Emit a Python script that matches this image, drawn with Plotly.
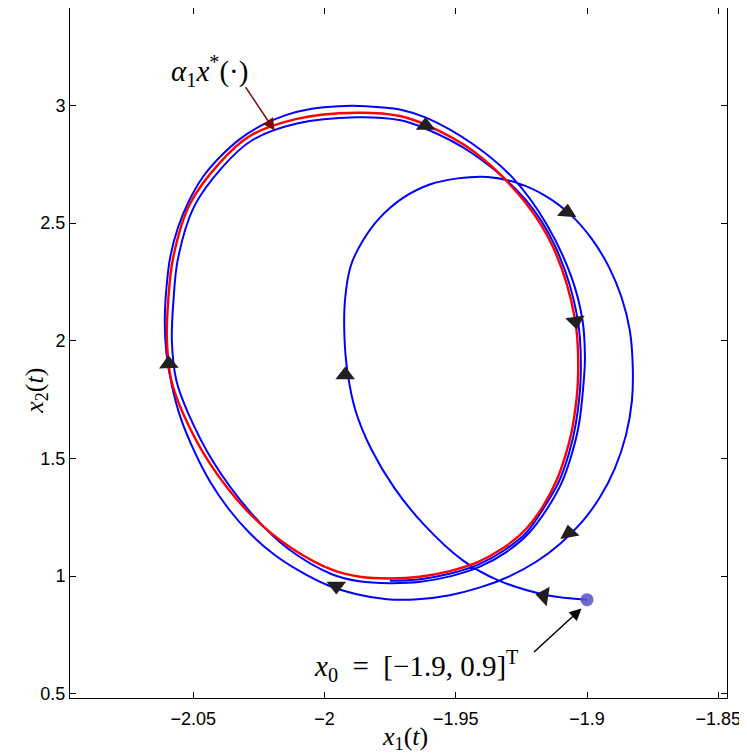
import plotly.graph_objects as go

# trajectory x(t) starting from x0
traj_x1 = [-1.9000, -1.9153, -1.9340, -1.9473, -1.9622, -1.9734, -1.9821, -1.9882, -1.9913, -1.9924,
           -1.9922, -1.9900, -1.9854, -1.9793, -1.9701, -1.9599, -1.9492, -1.9378, -1.9264, -1.9157,
           -1.9062, -1.8982, -1.8917, -1.8868, -1.8837, -1.8826, -1.8829, -1.8852, -1.8894, -1.8951,
           -1.9020, -1.9100, -1.9191, -1.9294, -1.9404, -1.9523, -1.9644, -1.9762, -1.9877, -1.9987,
           -2.0094, -2.0193, -2.0284, -2.0364, -2.0436, -2.0497, -2.0547, -2.0581, -2.0602, -2.0608,
           -2.0602, -2.0587, -2.0558, -2.0516, -2.0463, -2.0398, -2.0322, -2.0238, -2.0147, -2.0048,
           -1.9945, -1.9842, -1.9713, -1.9611, -1.9434, -1.9281, -1.9154, -1.9059, -1.9017, -1.9008,
           -1.9011, -1.9031, -1.9058, -1.9096, -1.9152, -1.9222, -1.9309, -1.9408, -1.9518, -1.9634,
           -1.9751, -1.9867, -1.9972, -2.0138, -2.0280, -2.0423, -2.0520, -2.0564, -2.0581, -2.0575,
           -2.0558, -2.0497, -2.0387, -2.0277, -2.0105, -1.9878, -1.9715, -1.9616, -1.9439, -1.9235,
           -1.9122, -1.9037, -1.9024, -1.9043, -1.9069, -1.9107, -1.9164, -1.9229, -1.9315, -1.9412,
           -1.9520, -1.9635, -1.9751]
traj_x2 = [0.900, 0.919, 0.983, 1.067, 1.220, 1.375, 1.538, 1.704, 1.873, 2.022,
           2.170, 2.318, 2.425, 2.518, 2.607, 2.664, 2.690, 2.696, 2.670, 2.615,
           2.535, 2.433, 2.314, 2.183, 2.043, 1.894, 1.746, 1.598, 1.458, 1.335,
           1.229, 1.140, 1.063, 1.000, 0.953, 0.919, 0.902, 0.902, 0.923, 0.961,
           1.021, 1.093, 1.182, 1.284, 1.402, 1.534, 1.670, 1.810, 1.950, 2.085,
           2.221, 2.357, 2.480, 2.594, 2.696, 2.781, 2.857, 2.916, 2.959, 2.986,
           2.997, 2.997, 2.983, 2.947, 2.835, 2.690, 2.495, 2.269, 2.085, 1.930,
           1.852, 1.644, 1.519, 1.398, 1.286, 1.182, 1.101, 1.040, 1.000, 0.976,
           0.970, 0.978, 1.008, 1.116, 1.269, 1.485, 1.695, 1.831, 2.000, 2.170,
           2.348, 2.569, 2.740, 2.851, 2.923, 2.950, 2.938, 2.902, 2.798, 2.601,
           2.403, 2.101, 1.852, 1.646, 1.521, 1.402, 1.291, 1.188, 1.110, 1.050,
           1.011, 0.987, 0.980]

# scaled periodic orbit alpha_1 x*(.)
cycle_x1 = [-2.0600, -2.0595, -2.0576, -2.0513, -2.0398, -2.0284, -2.0109, -1.9878, -1.9713, -1.9611,
            -1.9434, -1.9241, -1.9130, -1.9047, -1.9034, -1.9053, -1.9079, -1.9116, -1.9168, -1.9237,
            -1.9321, -1.9416, -1.9523, -1.9637, -1.9751, -1.9865, -1.9967, -2.0132, -2.0284, -2.0436,
            -2.0538, -2.0583, -2.0600]
cycle_x2 = [2.000, 2.170, 2.354, 2.580, 2.757, 2.870, 2.942, 2.969, 2.955, 2.916,
            2.806, 2.596, 2.399, 2.099, 1.852, 1.647, 1.525, 1.407, 1.296, 1.195,
            1.118, 1.059, 1.021, 0.997, 0.990, 0.997, 1.025, 1.124, 1.265, 1.478,
            1.690, 1.831, 2.000]

# direction arrows along the trajectory
arrow_x1 = [-1.9615, -1.9076, -1.9044, -1.9921, -2.0593, -1.9068, -1.9164, -1.9955]
arrow_x2 = [2.915, 2.546, 2.084, 1.855, 1.902, 1.183, 0.916, 0.958]
arrow_symbols = ["triangle-up", "triangle-up", "triangle-down", "triangle-up",
                 "triangle-up", "triangle-up", "triangle-left", "triangle-down"]
arrow_angles = [0, 5, -8, 0, -2, -10, 9, 0]

x0 = [-1.9, 0.9]

x_ticks = [-2.05, -2.0, -1.95, -1.9, -1.85]
x_ticktext = ["\u22122.05", "\u22122", "\u22121.95", "\u22121.9", "\u22121.85"]
y_ticks = [0.5, 1, 1.5, 2, 2.5, 3]
y_ticktext = ["0.5", "1", "1.5", "2", "2.5", "3"]

serif = "Liberation Serif"
sans = "Liberation Sans"

fig = go.Figure()

fig.add_trace(go.Scatter(x=traj_x1, y=traj_x2, mode="lines",
                         line=dict(color="#0000ff", width=2, shape="spline", smoothing=1.0),
                         showlegend=False, hoverinfo="skip"))
fig.add_trace(go.Scatter(x=cycle_x1, y=cycle_x2, mode="lines",
                         line=dict(color="#ff0000", width=2.4, shape="spline", smoothing=1.0),
                         showlegend=False, hoverinfo="skip"))
fig.add_trace(go.Scatter(x=arrow_x1, y=arrow_x2, mode="markers",
                         marker=dict(symbol=arrow_symbols, angle=arrow_angles, size=17,
                                     color="#231f20", line=dict(width=0)),
                         showlegend=False, hoverinfo="skip"))
fig.add_trace(go.Scatter(x=[x0[0]], y=[x0[1]], mode="markers",
                         marker=dict(size=13, color="rgba(90,80,200,0.85)", line=dict(width=0)),
                         showlegend=False, hoverinfo="skip"))

# labels and pointer arrows
fig.add_annotation(x=-2.0436, y=3.1455, text="<i>α</i><sub>1</sub><i>x</i><sup>*</sup>(·)",
                   showarrow=False, font=dict(family=serif, size=29, color="black"))
fig.add_annotation(x=-2.019, y=2.893, ax=-30, ay=-45, text="", showarrow=True,
                   arrowhead=2, arrowsize=1.6, arrowwidth=1.5, arrowcolor="#800000")
fig.add_annotation(x=-1.9648, y=0.618,
                   text="<i>x</i><sub>0</sub>\u2002=\u2002[−1.9, 0.9]<sup>T</sup>",
                   showarrow=False, font=dict(family=serif, size=29, color="black"))
fig.add_annotation(x=-1.9021, y=0.8626, ax=-49, ay=45, text="", showarrow=True,
                   arrowhead=2, arrowsize=1.6, arrowwidth=1.5, arrowcolor="black")

# axis labels
fig.add_annotation(xref="paper", yref="paper", x=0.51, y=-0.058,
                   xanchor="center", yanchor="middle",
                   text="<i>x</i><sub>1</sub>(<i>t</i>)", showarrow=False,
                   font=dict(family=serif, size=26, color="black"))
fig.add_annotation(xref="paper", yref="paper", x=-0.052, y=0.445, textangle=-90,
                   xanchor="center", yanchor="middle",
                   text="<i>x</i><sub>2</sub>(<i>t</i>)", showarrow=False,
                   font=dict(family=serif, size=26, color="black"))

axis_style = dict(showline=True, linecolor="black", linewidth=1, mirror="allticks",
                  ticks="inside", ticklen=6, tickcolor="black", showgrid=False, zeroline=False,
                  automargin=False, tickfont=dict(family=sans, size=18, color="black"))

# the page body adds an 8px offset, so the figure is a bit smaller than the window
fig.update_layout(
    width=739, height=748,
    margin=dict(l=62, r=20, t=0, b=58),
    paper_bgcolor="white", plot_bgcolor="white",
    xaxis=dict(range=[-2.0969, -1.8467], tickmode="array", tickvals=x_ticks,
               ticktext=x_ticktext, ticklabelstandoff=4, **axis_style),
    yaxis=dict(range=[0.482, 3.414], tickmode="array", tickvals=y_ticks,
               ticktext=y_ticktext, **axis_style),
)

fig.write_html("out.html")
